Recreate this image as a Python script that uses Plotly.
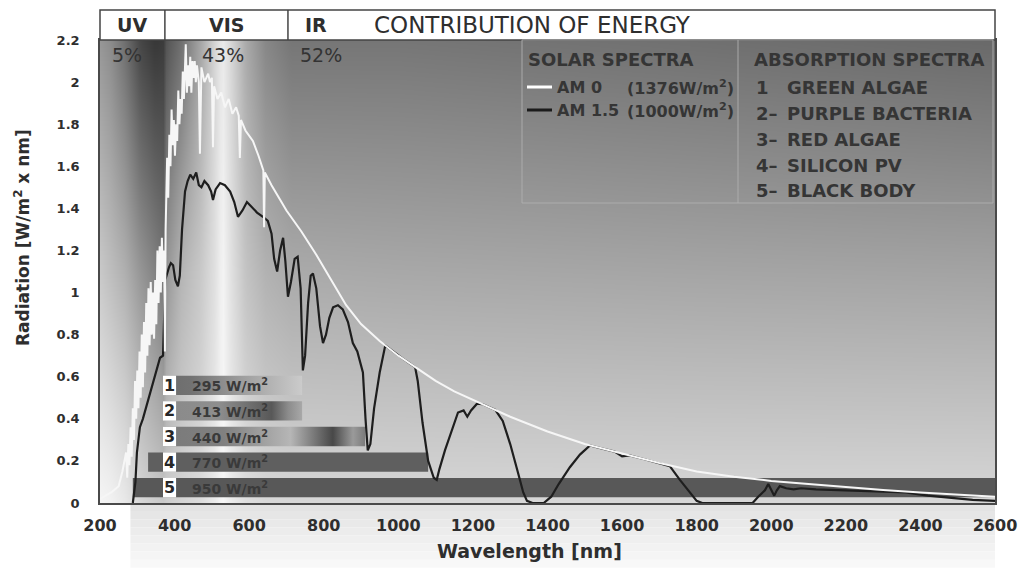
import numpy as np
import plotly.graph_objects as go

# ---------------- data ----------------
# Extraterrestrial solar spectrum (AM 0), wavelength [nm] -> W/m2 x nm
AM0_WL = [200, 230, 250, 260, 270, 273, 276, 279, 282, 285, 288, 291, 294, 297, 300,
          303, 306, 309, 312, 315, 318, 321, 324, 327, 330, 333, 336, 339, 342, 345,
          348, 351, 354, 357, 360, 363, 366, 369, 372, 374, 376, 380, 383, 386, 389,
          392, 395, 398, 401, 404, 407, 410, 413, 416, 419, 422, 425, 428, 430, 433,
          436, 439, 442, 445, 448, 451, 454, 457, 460, 465, 468, 472, 480, 490, 495,
          500, 503, 506, 515, 525, 535, 545, 555, 565, 572, 575, 578, 590, 610, 625,
          638, 640, 642, 660, 680, 700, 740, 780, 820, 860, 900, 950, 1000, 1050, 1100,
          1150, 1200, 1300, 1400, 1500, 1600, 1700, 1800, 1900, 2000, 2100, 2200, 2300, 2400, 2500,
          2600]
AM0_VAL = [0.02, 0.05, 0.08, 0.15, 0.24, 0.12, 0.28, 0.18, 0.36, 0.22, 0.45, 0.30, 0.58, 0.40, 0.63,
           0.45, 0.72, 0.50, 0.80, 0.55, 0.86, 0.62, 0.95, 0.70, 1.02, 0.75, 1.05, 0.80, 1.00, 0.78,
           1.06, 0.85, 1.20, 0.95, 1.22, 1.00, 1.26, 1.05, 1.20, 0.72, 1.30, 1.64, 1.45, 1.75, 1.60,
           1.87, 1.70, 1.82, 1.65, 1.80, 1.72, 1.96, 1.80, 1.92, 1.85, 2.05, 1.92, 2.10, 2.18, 1.95,
           2.08, 1.98, 2.12, 1.95, 2.10, 2.02, 2.10, 2.00, 2.08, 2.00, 1.66, 2.07, 2.00, 2.04, 2.00,
           2.02, 1.69, 1.98, 1.92, 1.95, 1.88, 1.92, 1.85, 1.88, 1.84, 1.64, 1.82, 1.77, 1.72, 1.65,
           1.58, 1.31, 1.57, 1.51, 1.45, 1.39, 1.29, 1.18, 1.06, 0.94, 0.85, 0.77, 0.70, 0.64, 0.58,
           0.53, 0.49, 0.41, 0.34, 0.28, 0.235, 0.19, 0.15, 0.125, 0.105, 0.09, 0.075, 0.062, 0.05, 0.04,
           0.03]

# Terrestrial solar spectrum (AM 1.5)
AM15_WL = [288, 295, 299, 307, 315, 326, 342, 355, 361, 369, 372, 375, 385, 390, 396,
           402, 409, 414, 420, 428, 435, 442, 450, 458, 465, 472, 480, 490, 498, 503,
           510, 522, 535, 549, 560, 570, 582, 594, 605, 621, 637, 650, 660, 667, 675,
           683, 691, 697, 704, 712, 722, 730, 738, 744, 750, 758, 765, 771, 780, 790,
           798, 806, 815, 825, 838, 851, 865, 878, 890, 900, 905, 912, 918, 925, 935,
           950, 965, 977, 990, 1010, 1030, 1045, 1052, 1065, 1080, 1095, 1103, 1110, 1125, 1146,
           1160, 1175, 1185, 1195, 1211, 1225, 1240, 1260, 1280, 1300, 1320, 1335, 1345, 1360, 1390,
           1410, 1430, 1460, 1487, 1514, 1550, 1580, 1600, 1620, 1660, 1700, 1728, 1755, 1782, 1800,
           1815, 1950, 1965, 1983, 1992, 2000, 2008, 2015, 2023, 2040, 2060, 2080, 2120, 2200, 2300,
           2360, 2420, 2480, 2540, 2600]
AM15_VAL = [0.0, 0.10, 0.24, 0.36, 0.40, 0.47, 0.58, 0.65, 0.69, 0.70, 0.95, 1.06, 1.12, 1.14, 1.13,
            1.06, 1.03, 1.08, 1.30, 1.48, 1.53, 1.56, 1.54, 1.57, 1.51, 1.50, 1.53, 1.51, 1.48, 1.44,
            1.49, 1.52, 1.51, 1.48, 1.43, 1.36, 1.39, 1.43, 1.41, 1.38, 1.36, 1.34, 1.28, 1.16, 1.10,
            1.20, 1.26, 1.15, 0.98, 1.05, 1.16, 1.17, 1.02, 0.63, 0.70, 0.95, 1.08, 1.09, 1.02, 0.84,
            0.76, 0.80, 0.88, 0.93, 0.94, 0.92, 0.86, 0.76, 0.72, 0.66, 0.62, 0.40, 0.25, 0.28, 0.45,
            0.62, 0.749, 0.732, 0.714, 0.688, 0.664, 0.646, 0.58, 0.38, 0.20, 0.12, 0.11, 0.16, 0.25, 0.36,
            0.43, 0.44, 0.41, 0.44, 0.472, 0.47, 0.458, 0.442, 0.39, 0.28, 0.15, 0.05, 0.01, 0.0, 0.0,
            0.03, 0.09, 0.17, 0.23, 0.273, 0.257, 0.244, 0.222, 0.226, 0.208, 0.19, 0.175, 0.11, 0.05, 0.01,
            0.0, 0.0, 0.03, 0.06, 0.09, 0.06, 0.035, 0.06, 0.08, 0.07, 0.065, 0.07, 0.065, 0.06, 0.055,
            0.05, 0.035, 0.025, 0.015, 0.01]

# Spectral bands and their share of the energy
BAND_EDGES = [200, 374, 704, 2600]
BAND_NAMES = ["UV", "VIS", "IR"]
BAND_SHARE = ["5%", "43%", "52%"]

# Absorption ranges [nm] and absorbed power
ABS_ID = ["1", "2", "3", "4", "5"]
ABS_NAME = ["GREEN ALGAE", "PURPLE BACTERIA", "RED ALGAE", "SILICON PV", "BLACK BODY"]
ABS_POWER = [295, 413, 440, 770, 950]
ABS_START = [370, 370, 370, 329, 288]
ABS_END = [742, 742, 911, 1080, 2600]

# ---------------- styling ----------------
FONT = "DejaVu Sans"
TXT = "#2e2e2e"
X_MIN, X_MAX = 200, 2600
Y_MIN, Y_MAX = 0, 2.2
SHARE_X = [227, 468, 731]          # left edge of the share labels [nm]

# shading of the plot background (grey level at top / middle / bottom)
BG_NM = [200, 227, 267, 307, 347, 372, 377, 415, 468, 508, 527, 549, 589, 642, 710, 1004, 1809, 2600]
BG_TOP = [150, 140, 110, 70, 55, 60, 85, 110, 165, 215, 235, 215, 170, 135, 118, 118, 112, 105]
BG_MID = [200, 190, 175, 150, 130, 115, 150, 180, 200, 225, 245, 225, 195, 178, 170, 168, 165, 163]
BG_BOT = [245, 242, 232, 215, 205, 200, 205, 212, 220, 235, 248, 235, 222, 216, 215, 215, 215, 215]

BAR_FILL = [
    dict(type="horizontal", colorscale=[[0, "#6c6c6c"], [0.2, "#727272"], [0.55, "#9c9c9c"], [1, "#cbcbcb"]]),
    dict(type="horizontal", colorscale=[[0, "#8a8a8a"], [0.4, "#8e8e8e"], [0.78, "#585858"], [0.9, "#8c8c8c"], [1, "#a8a8a8"]]),
    dict(type="horizontal", colorscale=[[0, "#7a7a7a"], [0.3, "#808080"], [0.63, "#b6b6b6"], [0.84, "#484848"], [0.94, "#9a9a9a"], [1, "#7c7c7c"]]),
    None,
    None,
]
BAR_SOLID = ["#808080", "#808080", "#808080", "#5f5f5f", "#585858"]
BAR_HALF = 0.046
ROW_STEP = 0.1215
ROW_BASE = 0.073

fig = go.Figure()

# background shading
bx = np.linspace(X_MIN, X_MAX, 300)
by = np.linspace(Y_MIN, Y_MAX, 45)
top = np.interp(bx, BG_NM, BG_TOP)
mid = np.interp(bx, BG_NM, BG_MID)
bot = np.interp(bx, BG_NM, BG_BOT)
z = []
for yv in by:
    t = yv / Y_MAX
    if t <= 0.5:
        row = bot + (mid - bot) * (t / 0.5)
    else:
        row = mid + (top - mid) * ((t - 0.5) / 0.5)
    z.append(row)
fig.add_trace(go.Heatmap(x=bx, y=by, z=np.array(z), zmin=0, zmax=255,
                         colorscale=[[0, "rgb(0,0,0)"], [1, "rgb(255,255,255)"]],
                         zsmooth="best", showscale=False, hoverinfo="skip"))

# absorption bars
rows = [ROW_BASE + ROW_STEP * (len(ABS_ID) - 1 - i) for i in range(len(ABS_ID))]
for i in range(len(ABS_ID)):
    s, e, yc = ABS_START[i], ABS_END[i], rows[i]
    kw = dict(fillcolor=BAR_SOLID[i])
    if BAR_FILL[i] is not None:
        kw["fillgradient"] = BAR_FILL[i]
    fig.add_trace(go.Scatter(x=[s, e, e, s, s],
                             y=[yc - BAR_HALF, yc - BAR_HALF, yc + BAR_HALF, yc + BAR_HALF, yc - BAR_HALF],
                             fill="toself", mode="lines", line=dict(width=0),
                             hoverinfo="skip", showlegend=False, **kw))

# spectra (AM 0 drawn on top where the two coincide)
fig.add_trace(go.Scatter(x=AM15_WL, y=AM15_VAL, mode="lines",
                         line=dict(color="#1e1e1e", width=2.2), showlegend=False, hoverinfo="skip"))
fig.add_trace(go.Scatter(x=AM0_WL, y=AM0_VAL, mode="lines",
                         line=dict(color="#f6f6f6", width=2), showlegend=False, hoverinfo="skip"))

shapes = []
annos = []


def label(x, y, text, size, color=TXT, xanchor="center", xref="paper", yref="paper", **kw):
    annos.append(dict(x=x, y=y, xref=xref, yref=yref, text=text, showarrow=False,
                      xanchor=xanchor, yanchor="middle",
                      font=dict(family=FONT, size=size, color=color), **kw))


# number boxes and power labels on the bars
for i in range(len(ABS_ID)):
    yc = rows[i]
    shapes.append(dict(type="rect", xref="x", yref="y", x0=369, x1=404,
                       y0=yc - BAR_HALF, y1=yc + BAR_HALF,
                       fillcolor="white", line=dict(width=0), layer="above"))
    label(386.5, yc, "<b>%s</b>" % ABS_ID[i], 16, "#262626", xref="x", yref="y")
    label(440, yc, "<b>%d W/m<sup>2</sup></b>" % ABS_POWER[i], 14, "#3a3a3a",
          xanchor="left", xref="x", yref="y")

# light haze under the x axis
haze = ["#e3e3e3", "#e6e6e6", "#e9e9e9", "#ececec", "#efefef", "#f2f2f2", "#f5f5f5", "#f8f8f8"]
for k, c in enumerate(haze):
    y_hi = -k * 0.0175
    shapes.append(dict(type="rect", xref="paper", yref="paper", x0=0.034, x1=1.0,
                       y0=y_hi - 0.0175, y1=y_hi, fillcolor=c, line=dict(width=0), layer="below"))

# header strip with the band names
HDR_TOP = 1 + 30 / 463
shapes.append(dict(type="rect", xref="paper", yref="paper", x0=0, x1=1, y0=1, y1=HDR_TOP,
                   fillcolor="white", line=dict(color="#444444", width=1.5)))
for edge in BAND_EDGES[1:-1]:
    shapes.append(dict(type="line", xref="x", yref="paper", x0=edge, x1=edge, y0=1, y1=HDR_TOP,
                       line=dict(color="#444444", width=1.5)))
hdr_y = 1 + 15 / 463
label((BAND_EDGES[0] + BAND_EDGES[1]) / 2, hdr_y, "<b>%s</b>" % BAND_NAMES[0], 19, xref="x")
label((BAND_EDGES[1] + BAND_EDGES[2]) / 2, hdr_y, "<b>%s</b>" % BAND_NAMES[1], 19, xref="x")
label(BAND_EDGES[2] + 40, hdr_y, "<b>%s</b>" % BAND_NAMES[2], 19, xanchor="left", xref="x")


def px(xp):
    return (xp - 100) / 895


def py(yp):
    return (503 - yp) / 463


label(px(372), hdr_y, "CONTRIBUTION OF ENERGY", 23, xanchor="left")

# band shares
for b, share in enumerate(BAND_SHARE):
    label(SHARE_X[b], py(55), share, 19, "#333333", xanchor="left", xref="x")

# legend panel
shapes.append(dict(type="rect", xref="paper", yref="paper", x0=px(522), x1=px(993), y0=py(203), y1=1,
                   line=dict(color="rgba(175,175,175,0.9)", width=1)))
shapes.append(dict(type="line", xref="paper", yref="paper", x0=px(738), x1=px(738), y0=py(203), y1=1,
                   line=dict(color="rgba(175,175,175,0.9)", width=1)))
shapes.append(dict(type="line", xref="paper", yref="paper", x0=px(527), x1=px(552), y0=py(87), y1=py(87),
                   line=dict(color="white", width=3)))
shapes.append(dict(type="line", xref="paper", yref="paper", x0=px(527), x1=px(552), y0=py(110), y1=py(110),
                   line=dict(color="#1b1b1b", width=3)))

LEG_C = "#353535"
label(px(526), py(59), "<b>SOLAR SPECTRA</b>", 18, LEG_C, xanchor="left")
label(px(555), py(87), "<b>AM 0</b>", 16, LEG_C, xanchor="left")
label(px(736), py(87), "<b>(1376W/m<sup>2</sup>)</b>", 16, LEG_C, xanchor="right")
label(px(555), py(110), "<b>AM 1.5</b>", 16, LEG_C, xanchor="left")
label(px(736), py(110), "<b>(1000W/m<sup>2</sup>)</b>", 16, LEG_C, xanchor="right")
label(px(752), py(59), "<b>ABSORPTION SPECTRA</b>", 18, LEG_C, xanchor="left")
leg_rows = [87, 113, 139, 165, 190]
for i in range(len(ABS_ID)):
    mark = ABS_ID[i] if i == 0 else ABS_ID[i] + "–"
    label(px(754), py(leg_rows[i]), "<b>%s</b>" % mark, 18, LEG_C, xanchor="left")
    label(px(785), py(leg_rows[i]), "<b>%s</b>" % ABS_NAME[i], 18, LEG_C, xanchor="left")

# axis titles
label(px(529), py(551), "<b>Wavelength [nm]</b>", 19)
label(px(22), py(238), "<b>Radiation [W/m<sup>2</sup> x nm]</b>", 17, textangle=-90)

fig.update_layout(
    width=1019, height=568, autosize=False,
    margin=dict(l=100, r=24, t=40, b=65, pad=0),
    paper_bgcolor="white", plot_bgcolor="white",
    showlegend=False,
    shapes=shapes, annotations=annos,
    xaxis=dict(range=[X_MIN, X_MAX], tickmode="array", tickvals=list(range(200, 2601, 200)),
               showgrid=False, zeroline=False, showline=True, mirror=True, automargin=False,
               linecolor="#4a4a4a", linewidth=1.5, ticks="", ticklabelstandoff=7,
               tickfont=dict(family=FONT, size=16, color=TXT, weight="bold")),
    yaxis=dict(range=[Y_MIN, Y_MAX], tick0=0, dtick=0.2,
               showgrid=False, zeroline=False, showline=True, mirror=True, automargin=False,
               linecolor="#4a4a4a", linewidth=1.5, ticks="", ticklabelstandoff=16,
               tickfont=dict(family=FONT, size=13, color=TXT, weight="bold")),
)

fig.write_html("out.html")
